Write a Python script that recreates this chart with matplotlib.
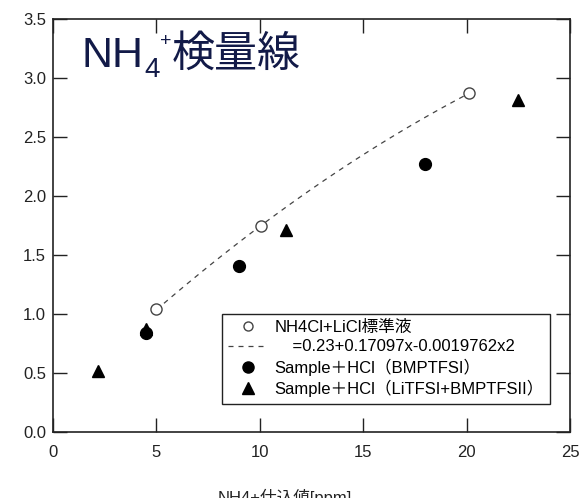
import matplotlib
matplotlib.use("Agg")
import matplotlib.pyplot as plt
from matplotlib.lines import Line2D

plt.rcParams['font.family'] = ['Liberation Sans', 'Noto Sans CJK JP', 'DejaVu Sans']

# calibration standard (NH4Cl + LiCl)
std_x = [5.0, 10.05, 20.1]
std_y = [1.04, 1.75, 2.87]

# fitted quadratic: y = a + b x + c x^2
fit_a, fit_b, fit_c = 0.23, 0.17097, -0.0019762
fit_range = [5.0, 20.1]

# Sample + HCl (BMPTFSI)
bmp_x = [4.5, 9.0, 18.0]
bmp_y = [0.84, 1.41, 2.27]

# Sample + HCl (LiTFSI + BMPTFSI)
li_x = [2.2, 4.5, 11.25, 22.5]
li_y = [0.52, 0.87, 1.71, 2.81]

lbl_std = "NH4Cl+LiCl標準液"
lbl_fit = "    =0.23+0.17097x-0.0019762x2"
lbl_bmp = "Sample＋HCl（BMPTFSI）"
lbl_li = "Sample＋HCl（LiTFSI+BMPTFSII）"

fig = plt.figure(figsize=(5.81, 4.98), dpi=100)
ax = fig.add_axes([0.0912, 0.1325, 0.8898, 0.8293])

n = 60
fx = [fit_range[0] + (fit_range[1] - fit_range[0]) * i / n for i in range(n + 1)]
fy = [fit_a + fit_b * x + fit_c * x * x for x in fx]
ax.plot(fx, fy, color='#444444', lw=0.9, ls=(0, (4, 4)), zorder=2)

ax.plot(std_x, std_y, 'o', mfc='white', mec='#444444', mew=1.0, ms=8, ls='none', zorder=3)
ax.plot(li_x, li_y, '^', color='black', ms=9, ls='none', zorder=3)
ax.plot(bmp_x, bmp_y, 'o', color='black', ms=8.5, ls='none', zorder=4)

ax.set_xlim(0, 25)
ax.set_ylim(0, 3.5)
ax.set_xticks([0, 5, 10, 15, 20, 25])
ax.set_yticks([0, 0.5, 1.0, 1.5, 2.0, 2.5, 3.0, 3.5])
ax.set_yticklabels(['0.0', '0.5', '1.0', '1.5', '2.0', '2.5', '3.0', '3.5'])
ax.tick_params(direction='in', length=10, width=1.0, top=True, right=True,
               labelsize=12, labelcolor='#222222', color='#222222')
ax.tick_params(axis='x', pad=9)
ax.tick_params(axis='y', pad=5)
for s in ax.spines.values():
    s.set_linewidth(1.2)
    s.set_color('#222222')

handles = [
    Line2D([], [], marker='o', mfc='white', mec='#444444', mew=1.0, ms=6.5, ls='none'),
    Line2D([], [], color='#444444', lw=0.9, ls=(0, (4, 4))),
    Line2D([], [], marker='o', color='black', ms=8, ls='none'),
    Line2D([], [], marker='^', color='black', ms=8.5, ls='none'),
]
leg = ax.legend(handles, [lbl_std, lbl_fit, lbl_bmp, lbl_li], loc='lower right',
                bbox_to_anchor=(0.962, 0.068), fontsize=12, frameon=True, fancybox=False,
                edgecolor='#222222', framealpha=1, handlelength=2.4, handletextpad=0.35,
                labelspacing=0.25, borderpad=0.4, borderaxespad=0)
leg.get_frame().set_linewidth(1.0)

# title "NH4+検量線" built from pieces so the sub/superscripts sit right
navy = '#121a48'
fig.canvas.draw()
r = fig.canvas.get_renderer()
inv = ax.transAxes.inverted()
x0, yb = 0.056, 0.884
t = ax.text(x0, yb, "NH", transform=ax.transAxes, fontsize=31, color=navy, va='baseline')
xe = inv.transform((t.get_window_extent(r).x1, 0))[0]
t2 = ax.text(xe, yb - 0.025, "4", transform=ax.transAxes, fontsize=20, color=navy,
             va='baseline')
xe2 = inv.transform((t2.get_window_extent(r).x1, 0))[0]
t3 = ax.text(xe2 + 0.002, yb + 0.05, "+", transform=ax.transAxes, fontsize=14, color=navy,
             va='baseline')
xe3 = inv.transform((t3.get_window_extent(r).x1, 0))[0]
ax.text(xe3, yb, "検量線", transform=ax.transAxes, fontsize=31, color=navy,
        va='baseline')

# axis title sits partly below the bottom edge of the figure
fig.text(0.49, 0.018, "NH4+仕込値[ppm]", ha='center', va='top', fontsize=12, color='#222222')

fig.savefig("out.png", dpi=100, facecolor='white')
